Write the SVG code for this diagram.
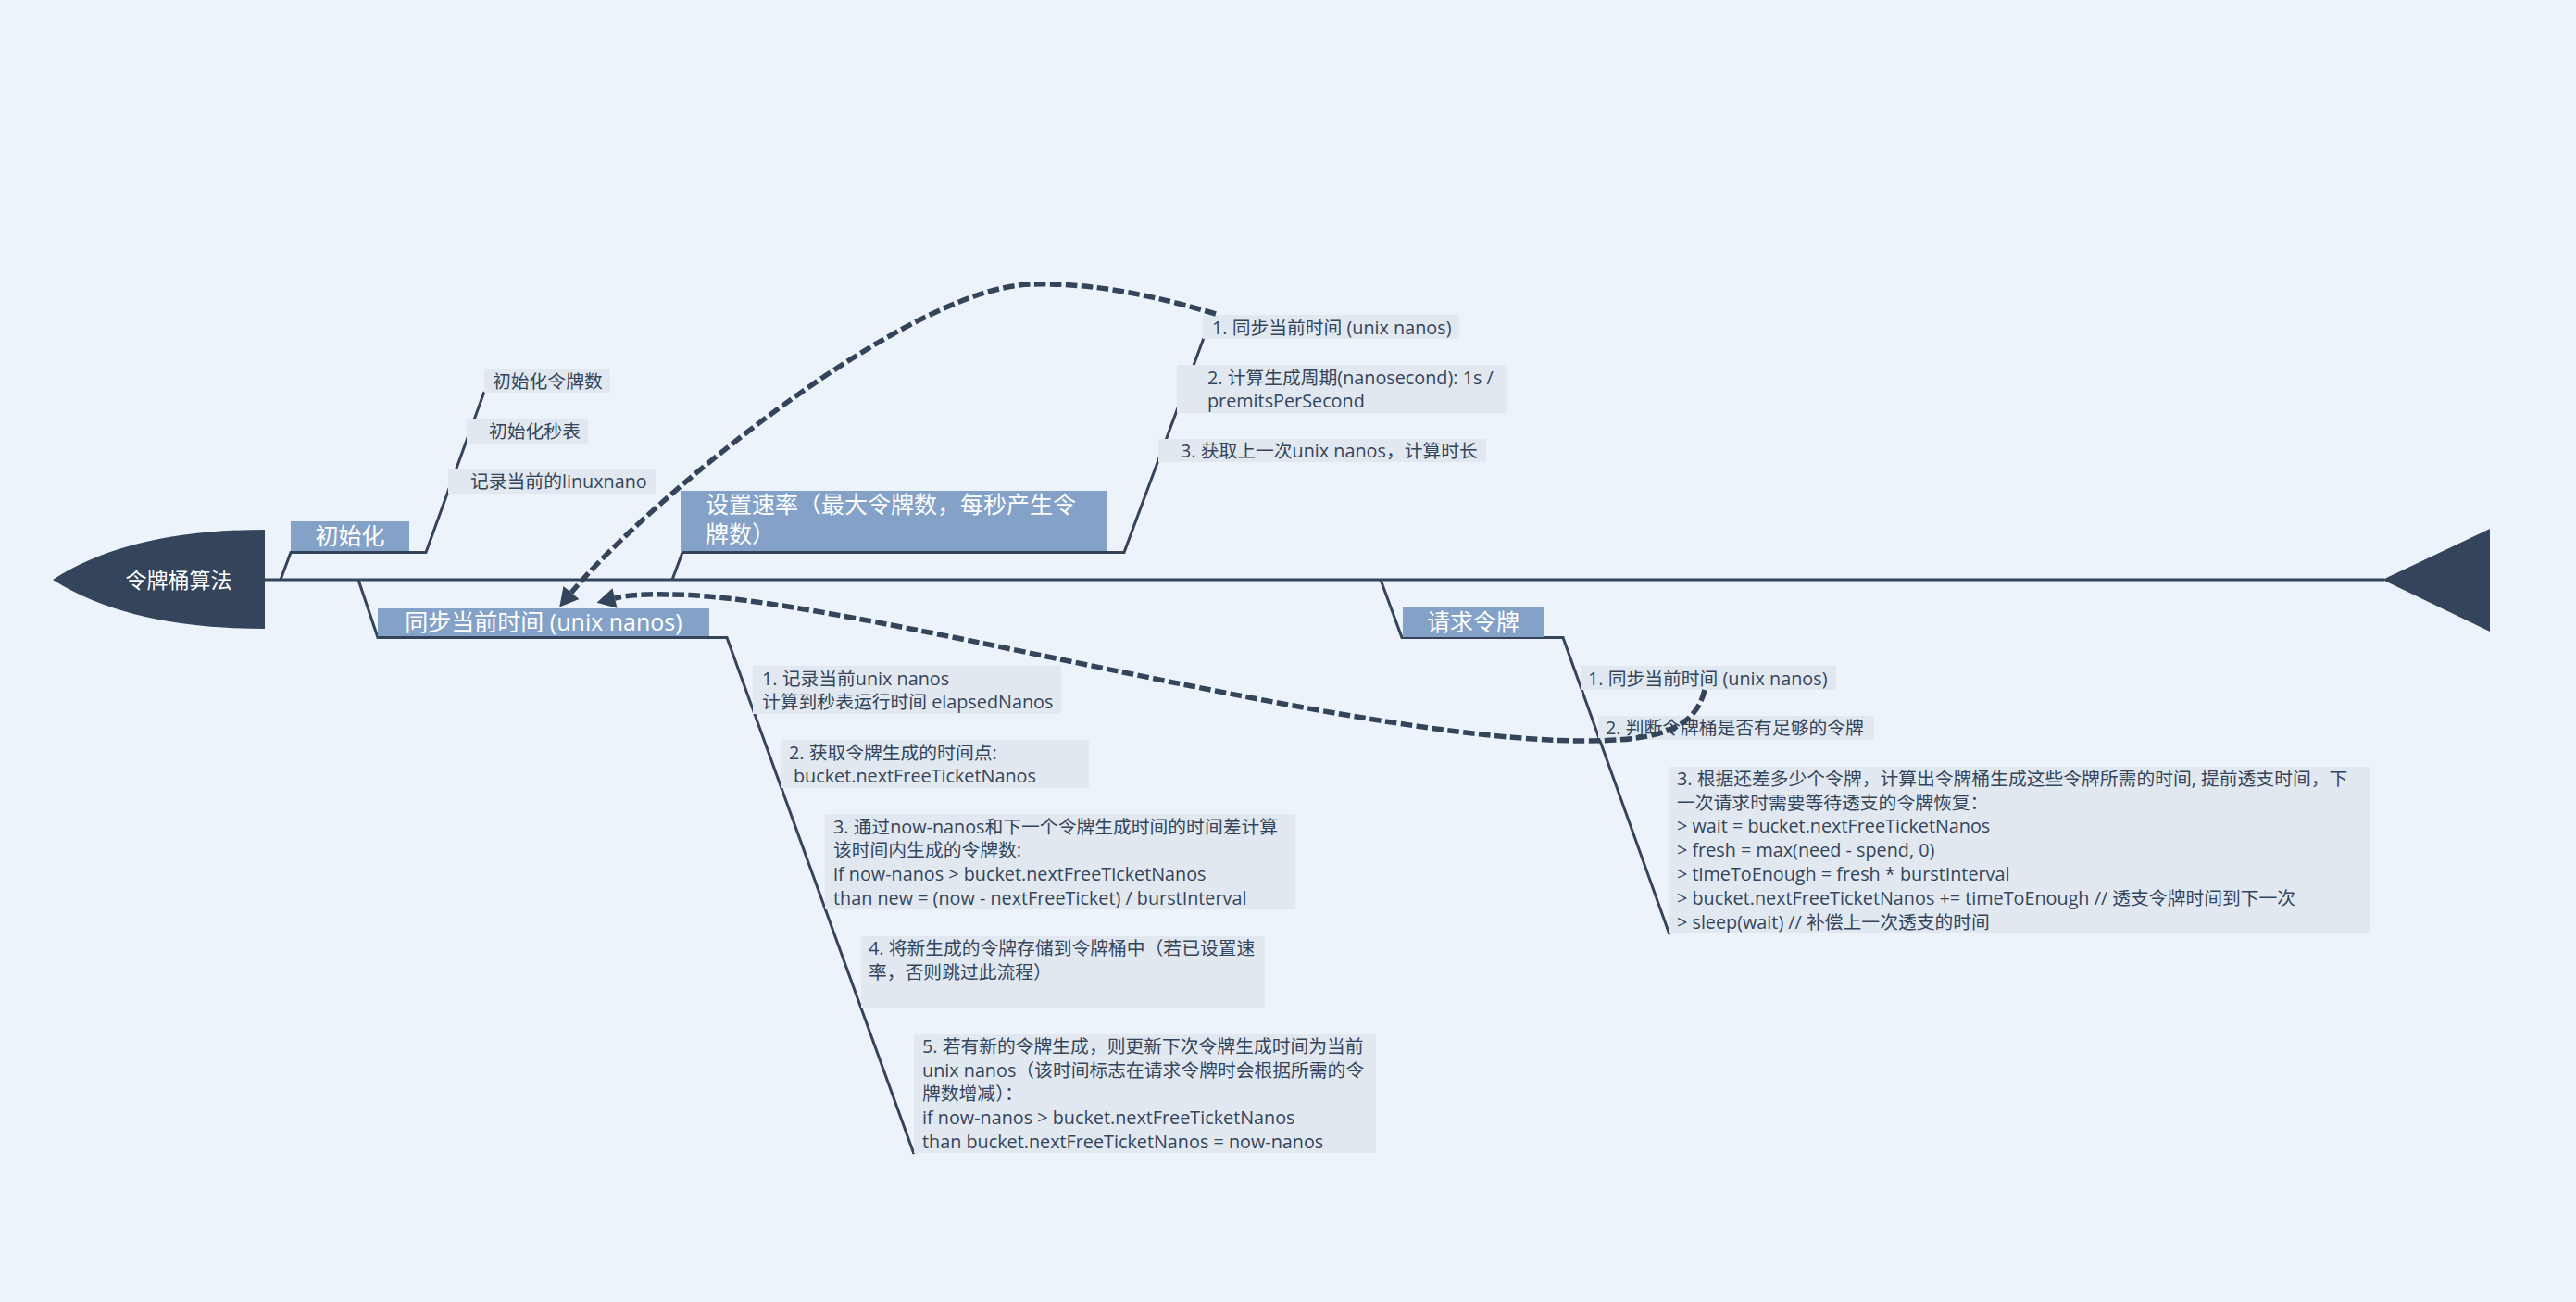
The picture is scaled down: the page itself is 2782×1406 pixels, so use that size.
<svg xmlns="http://www.w3.org/2000/svg" width="2782" height="1406" viewBox="0 0 2782 1406">
<defs>
<style>
.bg{fill:#edf3fa}
.line{fill:none;stroke:#34455b;stroke-width:3;stroke-linejoin:miter}
.main{fill:#84a2c8}
.leaf{fill:#e1e8f0}
.dark{fill:#34455b}
.mt{font-family:"Open Sans","Noto Sans CJK SC",sans-serif;font-size:25px;fill:#ffffff}
.ct{font-family:"Open Sans","Noto Sans CJK SC",sans-serif;font-size:23px;fill:#ffffff}
.lt{font-family:"Open Sans","Noto Sans CJK SC",sans-serif;font-size:19.8px;fill:#34455b}
.rel{fill:none;stroke:#34455b;stroke-width:5.5;stroke-dasharray:12.5 4.5}
</style>
<marker id="arr" markerUnits="userSpaceOnUse" markerWidth="22" markerHeight="22" viewBox="0 0 20 22" refX="0" refY="11" orient="auto"><path d="M0,0 L20,11 L0,22 Z" fill="#34455b"/></marker>
</defs>
<rect class="bg" x="0" y="0" width="2782" height="1406"/>

<g id="connectors">
<line class="line" x1="286" y1="626" x2="2575" y2="626"/>
<polyline class="line" points="303,626 314,596.5 460,596.5 523,423"/>
<polyline class="line" points="387,626 408,688.5 785,688.5 987,1246"/>
<polyline class="line" points="726,626 737,596.5 1214,596.5 1300,365"/>
<polyline class="line" points="1491,626 1514,688.5 1688,688.5 1803,1009"/>
</g>

<g id="central">
<path class="dark" d="M57,626 Q140,572 286,572 L286,679 Q140,679 57,626 Z"/>
<text class="ct" x="193" y="635" text-anchor="middle">令牌桶算法</text>
</g>
<g id="tail">
<path class="dark" d="M2573,626 L2689,571 L2689,682 Z"/>
</g>

<g id="init">
<rect class="main" x="314" y="563" width="128" height="32"/>
<text class="mt" x="378" y="588" text-anchor="middle">初始化</text>
</g>
<g id="init-1">
<rect class="leaf" x="523" y="399" width="136" height="25"/>
<text class="lt" x="532" y="419">初始化令牌数</text>
</g>
<g id="init-2">
<rect class="leaf" x="504" y="453" width="131" height="26"/>
<text class="lt" x="528" y="473">初始化秒表</text>
</g>
<g id="init-3">
<rect class="leaf" x="484" y="507" width="224" height="26"/>
<text class="lt" x="508" y="527">记录当前的linuxnano</text>
</g>

<g id="sync">
<rect class="main" x="408" y="657" width="358" height="30"/>
<text class="mt" x="587" y="681" text-anchor="middle">同步当前时间 (unix nanos)</text>
</g>
<g id="sync-1">
<rect class="leaf" x="813" y="719" width="333" height="52"/>
<text class="lt" x="823" y="740">1. 记录当前unix nanos</text>
<text class="lt" x="823" y="765">计算到秒表运行时间 elapsedNanos</text>
</g>
<g id="sync-2">
<rect class="leaf" x="843" y="799" width="333" height="52"/>
<text class="lt" x="852" y="820">2. 获取令牌生成的时间点:</text>
<text class="lt" x="857" y="845">bucket.nextFreeTicketNanos</text>
</g>
<g id="sync-3">
<rect class="leaf" x="891" y="879" width="508" height="103"/>
<text class="lt" x="900" y="900">3. 通过now-nanos和下一个令牌生成时间的时间差计算</text>
<text class="lt" x="900" y="925">该时间内生成的令牌数:</text>
<text class="lt" x="900" y="951">if now-nanos &gt; bucket.nextFreeTicketNanos</text>
<text class="lt" x="900" y="977">than new = (now - nextFreeTicket) / burstInterval</text>
</g>
<g id="sync-4">
<rect class="leaf" x="930" y="1011" width="436" height="77"/>
<text class="lt" x="938" y="1031">4. 将新生成的令牌存储到令牌桶中（若已设置速</text>
<text class="lt" x="938" y="1057">率，否则跳过此流程）</text>
</g>
<g id="sync-5">
<rect class="leaf" x="987" y="1117" width="499" height="128"/>
<text class="lt" x="996" y="1137">5. 若有新的令牌生成，则更新下次令牌生成时间为当前</text>
<text class="lt" x="996" y="1163">unix nanos（该时间标志在请求令牌时会根据所需的令</text>
<text class="lt" x="996" y="1188">牌数增减）：</text>
<text class="lt" x="996" y="1214">if now-nanos &gt; bucket.nextFreeTicketNanos</text>
<text class="lt" x="996" y="1240">than bucket.nextFreeTicketNanos = now-nanos</text>
</g>

<g id="rate">
<rect class="main" x="735" y="530" width="461" height="65"/>
<text class="mt" x="762" y="554">设置速率（最大令牌数，每秒产生令</text>
<text class="mt" x="762" y="586">牌数）</text>
</g>
<g id="rate-1">
<rect class="leaf" x="1299" y="340" width="277" height="26"/>
<text class="lt" x="1309" y="361">1. 同步当前时间 (unix nanos)</text>
</g>
<g id="rate-2">
<rect class="leaf" x="1271" y="394" width="357" height="52"/>
<text class="lt" x="1304" y="415">2. 计算生成周期(nanosecond): 1s /</text>
<text class="lt" x="1304" y="440">premitsPerSecond</text>
</g>
<g id="rate-3">
<rect class="leaf" x="1251" y="474" width="354" height="25"/>
<text class="lt" x="1275" y="494">3. 获取上一次unix nanos，计算时长</text>
</g>

<g id="request">
<rect class="main" x="1515" y="656" width="153" height="32"/>
<text class="mt" x="1591" y="681" text-anchor="middle">请求令牌</text>
</g>
<g id="request-1">
<rect class="leaf" x="1707" y="719" width="276" height="26"/>
<text class="lt" x="1715" y="740">1. 同步当前时间 (unix nanos)</text>
</g>
<g id="request-2">
<rect class="leaf" x="1726" y="773" width="298" height="26"/>
<text class="lt" x="1734" y="793">2. 判断令牌桶是否有足够的令牌</text>
</g>
<g id="request-3">
<rect class="leaf" x="1803" y="828" width="756" height="180"/>
<text class="lt" x="1811" y="848">3. 根据还差多少个令牌，计算出令牌桶生成这些令牌所需的时间, 提前透支时间，下</text>
<text class="lt" x="1811" y="874">一次请求时需要等待透支的令牌恢复：</text>
<text class="lt" x="1811" y="899">&gt; wait = bucket.nextFreeTicketNanos</text>
<text class="lt" x="1811" y="925">&gt; fresh = max(need - spend, 0)</text>
<text class="lt" x="1811" y="951">&gt; timeToEnough = fresh * burstInterval</text>
<text class="lt" x="1811" y="977">&gt; bucket.nextFreeTicketNanos += timeToEnough // 透支令牌时间到下一次</text>
<text class="lt" x="1811" y="1003">&gt; sleep(wait) // 补偿上一次透支的时间</text>
</g>

<g id="relationships">
<path class="rel" marker-end="url(#arr)" d="M1313,339 C1250,320 1180,305 1114,307 C980,310 700,540 617,640"/>
<path class="rel" marker-end="url(#arr)" d="M1841,745 C1830,792 1780,800 1711,800 C1450,800 900,640 720,642 Q685,641 664,646"/>
</g>
</svg>
